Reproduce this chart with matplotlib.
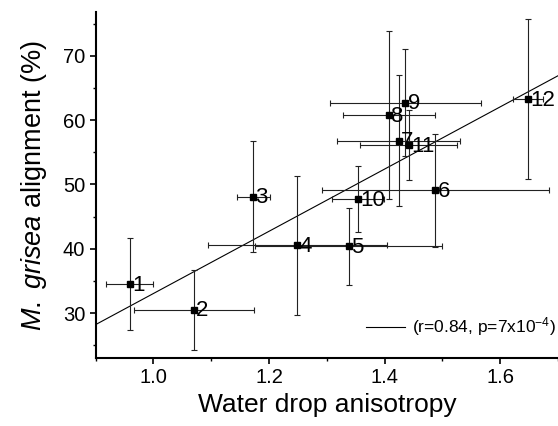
import matplotlib
matplotlib.use("Agg")
import matplotlib.pyplot as plt
import numpy as np

plt.rcParams["font.family"] = ["Liberation Sans", "DejaVu Sans"]
plt.rcParams["mathtext.fontset"] = "custom"
plt.rcParams["mathtext.rm"] = "Liberation Sans"
plt.rcParams["mathtext.it"] = "Liberation Sans:italic"

# sample numbers
labels = ["1", "2", "3", "4", "5", "6", "7", "8", "9", "10", "11", "12"]
# water drop anisotropy
anisotropy = [0.959, 1.070, 1.173, 1.249, 1.338, 1.488, 1.424, 1.408, 1.436, 1.354, 1.442, 1.648]
anisotropy_err = [0.041, 0.104, 0.029, 0.155, 0.162, 0.196, 0.107, 0.080, 0.130, 0.045, 0.084, 0.026]
# M. grisea alignment (%)
alignment = [34.5, 30.5, 48.1, 40.5, 40.4, 49.1, 56.8, 60.8, 62.7, 47.7, 56.1, 63.3]
alignment_err = [7.1, 6.2, 8.6, 10.8, 6.0, 8.8, 10.2, 13.0, 8.3, 5.1, 5.4, 12.5]

# linear fit (ends of the drawn line)
fit_x = [0.90, 1.70]
fit_y = [28.2, 66.9]
fit_label = "(r=0.84, p=7x10$^{-4}$)"

fig = plt.figure(figsize=(5.58, 4.26), dpi=100)
ax = fig.add_axes([0.1715, 0.1596, 0.8285, 0.812])

ax.errorbar(anisotropy, alignment, xerr=anisotropy_err, yerr=alignment_err,
            fmt="s", color="black", ecolor="#222222", elinewidth=0.8,
            capsize=2.5, capthick=0.8, markersize=4.3, zorder=3)
line, = ax.plot(fit_x, fit_y, color="black", linewidth=0.8, zorder=2)

for lab, x, y in zip(labels, anisotropy, alignment):
    ax.annotate(lab, (x, y), xytext=(1.5, -0.8), textcoords="offset points",
                ha="left", va="center", fontsize=16, zorder=4)

ax.legend([line], [fit_label], loc="center right", frameon=False, fontsize=12.5,
          handlelength=2.2, handletextpad=0.45, borderaxespad=0.0, borderpad=0.1,
          bbox_to_anchor=(1.0, 0.09))

ax.set_xlim(0.902, 1.697)
ax.set_ylim(23.0, 76.8)
ax.set_xticks([1.0, 1.2, 1.4, 1.6])
ax.set_xticks([0.9, 1.1, 1.3, 1.5, 1.7], minor=True)
ax.set_yticks([30, 40, 50, 60, 70])
ax.set_yticks([25, 35, 45, 55, 65, 75], minor=True)

ax.spines["top"].set_visible(False)
ax.spines["right"].set_visible(False)
ax.spines["left"].set_linewidth(1.5)
ax.spines["bottom"].set_linewidth(1.5)
ax.tick_params(which="major", direction="out", length=4, width=1.2, labelsize=14.5)
ax.tick_params(which="minor", direction="out", length=2.5, width=1.0)

ax.set_xlabel("Water drop anisotropy", fontsize=19, labelpad=4)
ax.set_ylabel("$\\it{M.}$ $\\it{grisea}$ alignment (%)", fontsize=19.5, labelpad=10)

fig.savefig("out.png", dpi=100)
